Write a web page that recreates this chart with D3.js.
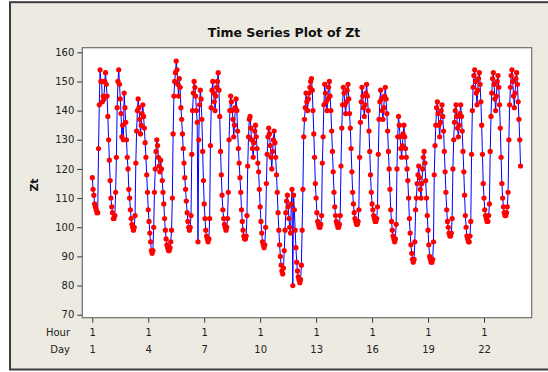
<!DOCTYPE html>
<html>
<head>
<meta charset="utf-8">
<script src="https://cdn.jsdelivr.net/npm/d3@7"></script>
<style>
body { margin: 0; background: #fff; }
svg { display: block; }
</style>
</head>
<body>
<script>
// hourly Zt values, one row per day (24 hours)
var zt = [
117,113,111,108,107,106,105,105,127,142,154,150,150,143,145,144,150,153,149,145,138,130,123,116,
110,107,105,103,103,104,112,124,141,150,154,149,144,139,131,135,130,146,141,136,130,124,120,113,
110,106,103,101,100,99,100,104,122,133,140,144,141,137,132,135,139,142,138,134,129,124,118,112,
106,102,98,95,92,91,92,100,112,120,126,130,128,124,121,119,123,120,116,112,108,103,99,96,
94,93,92,92,93,95,99,110,132,145,150,153,157,154,149,145,151,148,141,137,132,127,122,117,
113,109,105,102,100,99,100,104,125,140,146,150,148,145,140,136,95,130,142,147,144,137,126,116,
108,103,99,97,96,95,96,103,128,141,147,150,146,143,140,145,148,150,153,147,138,126,118,111,
106,103,101,100,99,100,103,112,130,140,145,143,140,137,131,135,141,144,140,133,127,122,117,112,
106,102,99,97,96,96,97,104,121,131,137,138,134,130,127,124,129,133,135,131,127,122,119,113,
107,102,98,95,94,93,94,100,115,125,131,134,132,128,124,120,126,130,133,129,124,118,112,105,
99,94,90,87,85,84,86,92,99,105,109,111,107,103,100,98,108,113,80,111,106,99,93,88,
85,83,82,81,82,87,99,113,131,137,141,146,143,140,144,146,148,150,151,147,140,132,124,115,
110,105,102,101,100,100,101,104,122,131,142,149,146,143,140,144,148,150,145,140,133,126,119,112,
107,104,102,101,100,100,101,104,121,134,142,148,146,142,139,143,147,149,144,139,134,127,119,112,
108,105,103,102,101,101,102,106,124,136,143,148,145,141,138,142,146,149,145,140,133,126,118,112,
108,106,104,103,102,102,103,107,125,137,143,147,144,140,137,141,145,148,144,139,133,126,120,113,
106,102,99,97,96,95,96,101,120,131,138,135,131,127,124,128,132,135,131,127,124,120,116,110,
103,98,94,91,89,88,89,95,106,110,115,118,121,117,113,110,115,120,124,126,122,116,110,104,
99,94,90,89,88,88,89,95,118,128,135,141,143,139,135,131,136,140,142,138,133,126,119,112,
106,102,100,98,97,97,98,103,120,130,136,140,142,138,134,131,135,139,142,138,133,126,119,111,
104,100,97,96,95,95,97,102,125,140,148,152,154,150,146,142,147,151,153,149,143,135,125,115,
110,106,104,103,102,102,104,108,126,138,146,151,153,149,144,140,145,150,152,148,142,134,124,115,
110,107,105,104,104,105,107,112,130,142,148,152,154,150,145,141,146,151,153,149,143,137,130,121
];

var dayLabels = ["1","4","7","10","13","16","19","22"];
var hourLabels = ["1","1","1","1","1","1","1","1"];
var yTicks = [70,80,90,100,110,120,130,140,150,160];

var width = 548, height = 372;
var plot = {left: 82.3, right: 531.7, top: 47.7, bottom: 317.7};
var font = "'DejaVu Sans', sans-serif";

var x = d3.scaleLinear().domain([1,505]).range([92.3,484]);
var y = d3.scaleLinear().domain([70,160]).range([314.7,52.3]);

var svg = d3.select("body").append("svg").attr("width",width).attr("height",height);

// panel
svg.append("rect").attr("x",10).attr("y",2.2).attr("width",570).attr("height",367.3)
  .attr("fill","#edeae1").attr("stroke","#3c3c3c").attr("stroke-width",2);

svg.append("rect").attr("x",plot.left).attr("y",plot.top)
  .attr("width",plot.right-plot.left).attr("height",plot.bottom-plot.top)
  .attr("fill","#fff");

// title
svg.append("text").attr("x",284).attr("y",37).attr("text-anchor","middle")
  .attr("font-family",font).attr("font-weight","bold").attr("font-size",12.5)
  .attr("fill","#111").text("Time Series Plot of Zt");

// y label
svg.append("text").attr("transform","translate(38,185) rotate(-90)")
  .attr("text-anchor","middle").attr("font-family",font).attr("font-weight","bold")
  .attr("font-size",11).attr("fill","#111").text("Zt");

// axes
var yAxis = d3.axisLeft(y).tickValues(yTicks).tickSize(5).tickPadding(3);
var gy = svg.append("g").attr("transform","translate("+plot.left+",0)").call(yAxis);
gy.select(".domain").remove();
gy.selectAll("line").attr("stroke","#333");
gy.selectAll("text").attr("font-family",font).attr("font-size",10).attr("fill","#222");

var tickIdx = dayLabels.map(function(d){ return (+d-1)*24+1; });

var xAxis = d3.axisBottom(x).tickValues(tickIdx).tickSize(5)
  .tickFormat(function(d,i){ return hourLabels[i]; });
var gx = svg.append("g").attr("transform","translate(0,"+plot.bottom+")").call(xAxis);
gx.select(".domain").remove();
gx.selectAll("line").attr("stroke","#333");
gx.selectAll("text").attr("y",18).attr("dy",null)
  .attr("font-family",font).attr("font-size",10).attr("fill","#222");

var xAxis2 = d3.axisBottom(x).tickValues(tickIdx).tickSize(0)
  .tickFormat(function(d,i){ return dayLabels[i]; });
var gx2 = svg.append("g").attr("transform","translate(0,"+plot.bottom+")").call(xAxis2);
gx2.select(".domain").remove();
gx2.selectAll("text").attr("y",35).attr("dy",null)
  .attr("font-family",font).attr("font-size",10).attr("fill","#222");

svg.append("text").attr("x",70).attr("y",plot.bottom+18).attr("text-anchor","end")
  .attr("font-family",font).attr("font-size",10).attr("fill","#222").text("Hour");
svg.append("text").attr("x",70).attr("y",plot.bottom+35).attr("text-anchor","end")
  .attr("font-family",font).attr("font-size",10).attr("fill","#222").text("Day");

// series
var line = d3.line()
  .x(function(d,i){ return x(i+1); })
  .y(function(d){ return y(d); });

svg.append("path").attr("d",line(zt)).attr("fill","none")
  .attr("stroke","#0000ff").attr("stroke-width",1);

svg.append("g").selectAll("circle").data(zt).enter().append("circle")
  .attr("cx",function(d,i){ return x(i+1); })
  .attr("cy",function(d){ return y(d); })
  .attr("r",2.6).attr("fill","#ff0000");

// plot border on top
svg.append("rect").attr("x",plot.left).attr("y",plot.top)
  .attr("width",plot.right-plot.left).attr("height",plot.bottom-plot.top)
  .attr("fill","none").attr("stroke","#6e6e6e").attr("stroke-width",1.2);
</script>
</body>
</html>
